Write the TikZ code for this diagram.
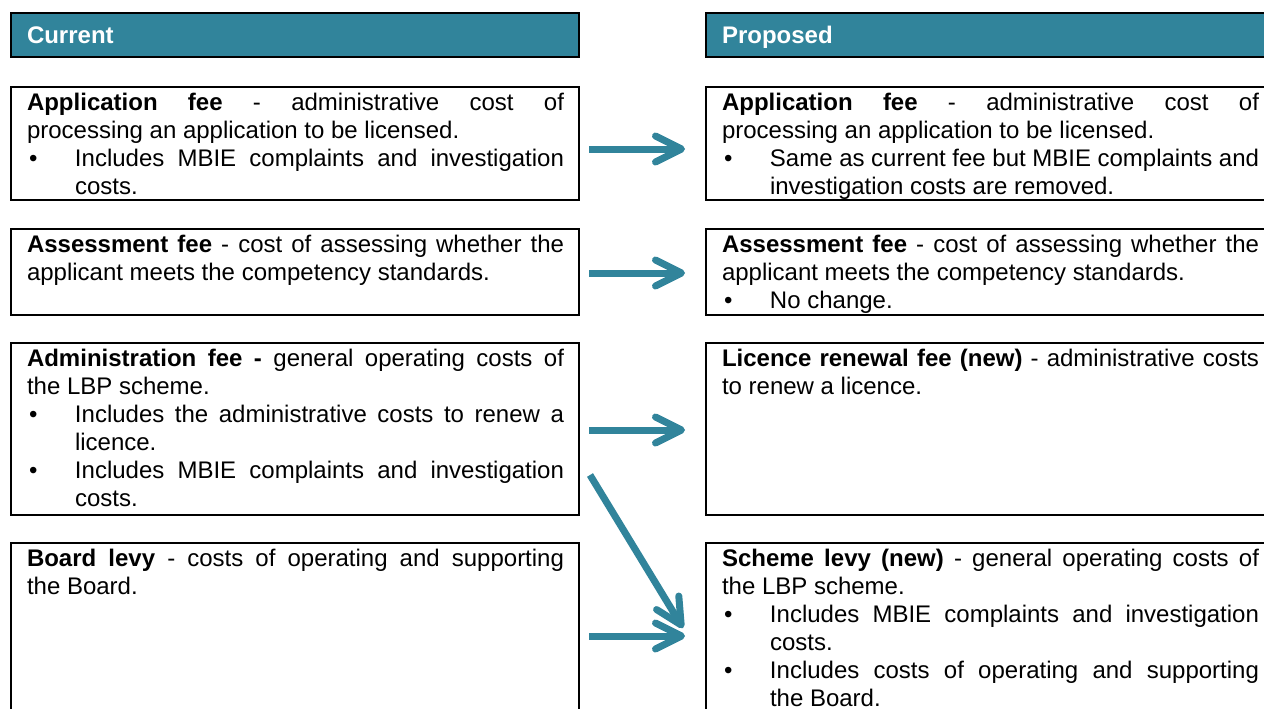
\documentclass[tikz,border=0pt]{standalone}
\usepackage{fontspec}
\setmainfont{Liberation Sans}
\usetikzlibrary{arrows.meta,calc}
\definecolor{accent}{HTML}{31849B}
% bullet line with hanging indent
\newcommand\bitem[1]{\par\noindent\hangindent=24pt\relax\hangafter=1\relax\makebox[24pt][l]{\hspace{1pt}\textbullet}#1\par}

\begin{document}
\begin{tikzpicture}[x=0.5pt,y=-0.5pt,
    header/.style={draw,line width=1pt,fill=accent,text=white,anchor=north west,outer sep=0pt,
      font=\bfseries\fontsize{12}{14}\selectfont,minimum height=22pt,text width=268pt,
      inner xsep=8pt,inner ysep=0pt,text height=8.6pt,text depth=0pt,align=left},
    feebox/.style={draw,line width=1pt,anchor=north west,outer sep=0pt,minimum width=284pt,inner sep=0pt},
    feetext/.style={anchor=north west,outer sep=0pt,text width=268.5pt,inner xsep=8pt,inner ysep=1.7pt,
      align=justify,font=\fontsize{12}{14}\selectfont,
      execute at begin node={\hyphenpenalty=10000\relax\tolerance=10000\relax}},
    flow/.style={draw=accent,line width=3.5pt,-{Straight Barb[length=13pt,width=13pt,round]}}]
  \useasboundingbox (0,0) rectangle (1264,708);
  \clip (0,0) rectangle (1264,708);

  % headers
  \node[header] (cur-head) at (11,13) {Current};
  \node[header] (prop-head) at (706,13) {Proposed};

  % current fees
  \node[feebox,minimum height=56.5pt] (cur-app) at (11,87) {};
  \node[feetext] (cur-app-txt) at (cur-app.north west) {\noindent\strut\textbf{Application fee} - administrative cost of\linebreak processing an application to be licensed.\bitem{Includes MBIE complaints and investigation\linebreak costs.}};
  \node[feebox,minimum height=43pt] (cur-ass) at (11,229) {};
  \node[feetext] (cur-ass-txt) at (cur-ass.north west) {\noindent\strut\textbf{Assessment fee} - cost of assessing whether the\linebreak applicant meets the competency standards.};
  \node[feebox,minimum height=86pt] (cur-admin) at (11,343) {};
  \node[feetext] (cur-admin-txt) at (cur-admin.north west) {\noindent\strut\textbf{Administration fee -} general operating costs of\linebreak the LBP scheme.\bitem{Includes the administrative costs to renew a\linebreak licence.}\bitem{Includes MBIE complaints and investigation\linebreak costs.}};
  \node[feebox,minimum height=100pt] (cur-board) at (11,543) {};
  \node[feetext] (cur-board-txt) at (cur-board.north west) {\noindent\strut\textbf{Board levy} - costs of operating and supporting\linebreak the Board.};

  % proposed fees
  \node[feebox,minimum height=56.5pt] (prop-app) at (706,87) {};
  \node[feetext] (prop-app-txt) at (prop-app.north west) {\noindent\strut\textbf{Application fee} - administrative cost of\linebreak processing an application to be licensed.\bitem{Same as current fee but MBIE complaints and\linebreak investigation costs are removed.}};
  \node[feebox,minimum height=43pt] (prop-ass) at (706,229) {};
  \node[feetext] (prop-ass-txt) at (prop-ass.north west) {\noindent\strut\textbf{Assessment fee} - cost of assessing whether the\linebreak applicant meets the competency standards.\bitem{No change.}};
  \node[feebox,minimum height=86pt] (prop-renew) at (706,343) {};
  \node[feetext] (prop-renew-txt) at (prop-renew.north west) {\noindent\strut\textbf{Licence renewal fee (new)} - administrative costs\linebreak to renew a licence.};
  \node[feebox,minimum height=100pt] (prop-levy) at (706,543) {};
  \node[feetext] (prop-levy-txt) at (prop-levy.north west) {\noindent\strut\textbf{Scheme levy (new)} - general operating costs of\linebreak the LBP scheme.\bitem{Includes MBIE complaints and investigation\linebreak costs.}\bitem{Includes costs of operating and supporting\linebreak the Board.}};

  % arrows
  \draw[flow] ($(cur-app.east)+(10,5.5)$) -- ($(prop-app.west)+(-21,5.5)$);
  \draw[flow] ($(cur-ass.east)+(10,1)$) -- ($(prop-ass.west)+(-21,1)$);
  \draw[flow] ($(cur-admin.east)+(10,1)$) -- ($(prop-renew.west)+(-21,1)$);
  \draw[flow] ($(cur-admin.south east)+(11,-40)$) -- ($(prop-levy.north west)+(-23,85)$);
  \draw[flow] ($(cur-board.north east)+(10,93)$) -- ($(prop-levy.north west)+(-21,93)$);
\end{tikzpicture}
\end{document}
